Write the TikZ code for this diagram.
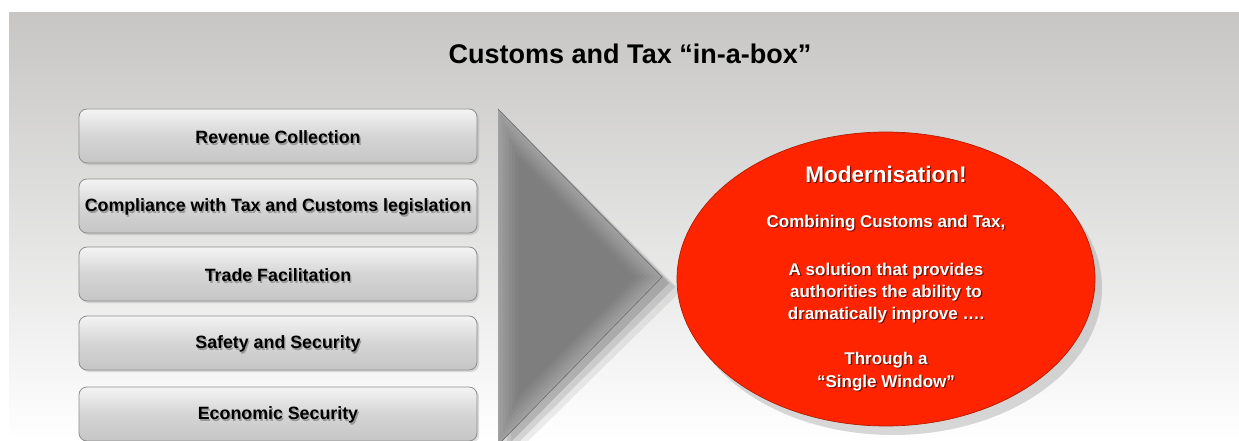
\documentclass[tikz,border=0pt]{standalone}
\usepackage{fontspec}
\setmainfont{Liberation Sans}
\usetikzlibrary{shadows,shapes.geometric}
\definecolor{bgtop}{HTML}{C7C6C5}
\definecolor{boxtop}{HTML}{F4F4F4}
\definecolor{boxmid}{HTML}{D5D5D5}
\definecolor{boxbot}{HTML}{C6C6C6}
\definecolor{boxline}{HTML}{8E8E8E}
\definecolor{trifill}{HTML}{7E7E7E}
\definecolor{triedge}{HTML}{A0A0A0}
\definecolor{ellred}{HTML}{FF2400}
\definecolor{ellline}{HTML}{B01E00}
\definecolor{redshadow}{HTML}{7A1000}
\newcommand{\shtxt}[2]{\leavevmode\rlap{\kern1.3pt\raisebox{-1.3pt}{\textcolor{#1}{#2}}}#2}
\newcommand{\boxtxt}[1]{\raisebox{-2pt}[\height][\depth]{\shtxt{black!40}{#1}}}
\tikzset{
  itembox/.style={rounded corners=8pt, minimum width=398pt, minimum height=54pt,
    draw=boxline, line width=0.8pt, top color=boxtop, bottom color=boxbot, middle color=boxmid,
    drop shadow={shadow xshift=2pt, shadow yshift=-2pt, opacity=0.25},
    font=\bfseries\fontsize{17.8}{21}\selectfont, text=black},
  elltext/.style={font=\bfseries\fontsize{17}{22}\selectfont, text=white, align=center},
}
\begin{document}
\begin{tikzpicture}[x=1pt,y=-1pt]
\useasboundingbox (0,0) rectangle (1239,441);
\shade[top color=bgtop, bottom color=white] (9,13) rectangle (1239,441);

\node[font=\bfseries\fontsize{27}{32}\selectfont] (title) at (630,54) {Customs and Tax “in-a-box”};

\node[itembox] (b1) at (278,136) {\boxtxt{Revenue Collection}};
\node[itembox] (b2) at (278,206) {\boxtxt{Compliance with Tax and Customs legislation}};
\node[itembox] (b3) at (278,274) {\boxtxt{Trade Facilitation}};
\node[itembox] (b4) at (278,343) {\boxtxt{Safety and Security}};
\node[itembox] (b5) at (278,414) {\boxtxt{Economic Security}};

% arrow triangle
\fill[black, opacity=0.14] (503,114) -- (669,283) -- (503,450) -- cycle;
\fill[black, opacity=0.10] (507,118) -- (675,287) -- (507,454) -- cycle;
\fill[black, opacity=0.07] (511,122) -- (681,291) -- (511,458) -- cycle;
\begin{scope}
  \clip (498,109) -- (662,277) -- (498,445) -- cycle;
  \fill[trifill] (498,109) -- (662,277) -- (498,445) -- cycle;
  \foreach \w/\c in {40/10,34/25,28/40,22/55,16/70,10/85,4/100}{
    \draw[triedge!\c!trifill, line width=\w pt, line join=round] (498,109) -- (662,277) -- (498,445) -- cycle;
  }
\end{scope}
\draw[triedge!70!black, line width=0.6pt] (498,109) -- (662,277) -- (498,445);

% ellipse
\node[ellipse, minimum width=418pt, minimum height=294pt, fill=ellred, draw=ellline, line width=0.7pt,
  drop shadow={shadow xshift=7pt, shadow yshift=-9pt, opacity=0.3}] (ell) at (886,279) {};

\node[font=\bfseries\fontsize{22.5}{27}\selectfont, text=white] (m) at (886,175) {\shtxt{redshadow}{Modernisation!}};
\node[elltext] (p1) at (886,223.5) {\shtxt{redshadow}{Combining Customs and Tax,}};
\node[elltext] (p2) at (886,293.5) {\shtxt{redshadow}{A solution that provides}\\\shtxt{redshadow}{authorities the ability to}\\\shtxt{redshadow}{dramatically improve ….}};
\node[elltext, font=\bfseries\fontsize{17}{23}\selectfont] (p3) at (886,372) {\shtxt{redshadow}{Through a}\\\shtxt{redshadow}{“Single Window”}};
\end{tikzpicture}
\end{document}
